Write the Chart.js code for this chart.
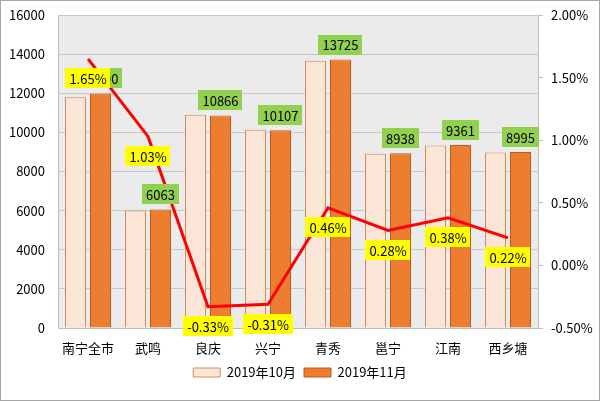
<!DOCTYPE html>
<html><head><meta charset="utf-8">
<script src="https://cdn.jsdelivr.net/npm/chart.js@4/dist/chart.umd.min.js"></script>
<style>html,body{margin:0;padding:0;background:#fff}#wrap{width:600px;height:401px;position:relative}</style>
</head><body><div id="wrap"><canvas id="c" width="600" height="401"></canvas></div>
<script>
const categories = ['南宁全市','武鸣','良庆','兴宁','青秀','邕宁','江南','西乡塘'];
const oct2019 = [11795, 6001, 10902, 10138, 13662, 8913, 9326, 8975];
const nov2019 = [11990, 6063, 10866, 10107, 13725, 8938, 9361, 8995];
const changePct = [1.65, 1.03, -0.33, -0.31, 0.46, 0.28, 0.38, 0.22];
const leftTicks = [0, 16000, 2000];
const rightTicks = [-0.5, 2.0, 0.5];
const seriesNames = ['2019年10月', '2019年11月'];

const FONT = '"Noto Sans CJK SC", "Open Sans", sans-serif';
const PLOT_L = 58, PLOT_R = 538;

const bgPlugin = {
  id: 'bg',
  beforeDraw(chart) {
    const {ctx, chartArea: a} = chart;
    ctx.save();
    ctx.fillStyle = '#ffffff';
    ctx.fillRect(0, 0, chart.width, chart.height);
    ctx.fillStyle = '#EBEBEB';
    ctx.fillRect(a.left, a.top, a.right - a.left, a.bottom - a.top);
    ctx.restore();
  },
  afterDraw(chart) {
    const ctx = chart.ctx;
    ctx.save();
    ctx.strokeStyle = '#A6A6A6';
    ctx.lineWidth = 1;
    ctx.strokeRect(0.5, 0.5, chart.width - 1, chart.height - 1);
    ctx.restore();
  }
};

function boxLabel(ctx, text, cx, cy, fill) {
  ctx.font = '13px ' + FONT;
  const w = ctx.measureText(text).width + 8;
  const h = 20;
  ctx.fillStyle = fill;
  ctx.fillRect(Math.round(cx - w / 2), Math.round(cy - h / 2), Math.round(w), h);
  ctx.fillStyle = '#000';
  ctx.textAlign = 'center';
  ctx.textBaseline = 'middle';
  ctx.fillText(text, cx, cy + 1);
}

const labelPlugin = {
  id: 'labels',
  afterDatasetsDraw(chart) {
    const ctx = chart.ctx;
    ctx.save();
    const barMeta = chart.getDatasetMeta(1);
    barMeta.data.forEach((el, i) => {
      boxLabel(ctx, String(nov2019[i]), el.x, el.y - 5 - 10, '#92D050');
    });
    const lineMeta = chart.getDatasetMeta(2);
    lineMeta.data.forEach((el, i) => {
      boxLabel(ctx, changePct[i].toFixed(2) + '%', el.x, el.y + 19.5, '#FFFF00');
    });
    ctx.restore();
  }
};

new Chart(document.getElementById('c'), {
  data: {
    labels: categories,
    datasets: [
      { type: 'bar', label: seriesNames[0], data: oct2019, backgroundColor: '#FBE5D6', borderColor: '#D8895A', borderWidth: 1, yAxisID: 'y', order: 2, categoryPercentage: 0.833, barPercentage: 0.84 },
      { type: 'bar', label: seriesNames[1], data: nov2019, backgroundColor: '#ED7D31', borderColor: '#C55A11', borderWidth: 1, yAxisID: 'y', order: 2, categoryPercentage: 0.833, barPercentage: 0.84 },
      { type: 'line', label: 'pct', data: changePct, borderColor: '#FF0000', borderWidth: 3, pointRadius: 0, tension: 0, fill: false, yAxisID: 'y1', order: 1 }
    ]
  },
  options: {
    responsive: false,
    animation: false,
    layout: { padding: { top: 15, left: 0, right: 0, bottom: 12 } },
    plugins: {
      legend: {
        position: 'bottom',
        labels: {
          filter: (item) => item.datasetIndex < 2,
          boxWidth: 27, boxHeight: 9, color: '#000', padding: 8,
          font: { size: 13, family: FONT }
        }
      },
      tooltip: { enabled: false }
    },
    scales: {
      x: {
        grid: { display: false, drawTicks: false },
        border: { display: true, color: '#BFBFBF' },
        ticks: { color: '#000', padding: 12, font: { size: 13, family: FONT } },
        afterFit(s) { s.height = 30; s.paddingLeft = 0; s.paddingRight = 0; }
      },
      y: {
        position: 'left',
        min: leftTicks[0], max: leftTicks[1],
        ticks: { stepSize: leftTicks[2], color: '#000', padding: 13, font: { size: 13, family: FONT }, callback: v => String(v) },
        grid: { color: '#C8C8C8', drawTicks: false },
        border: { display: true, color: '#BFBFBF' },
        afterFit(s) { s.width = PLOT_L; s.paddingTop = 0; s.paddingBottom = 0; }
      },
      y1: {
        position: 'right',
        min: rightTicks[0], max: rightTicks[1],
        ticks: { stepSize: rightTicks[2], color: '#000', padding: 8, font: { size: 13, family: FONT }, callback: v => v.toFixed(2) + '%' },
        grid: { drawOnChartArea: false, color: '#BFBFBF', tickLength: 5 },
        border: { display: true, color: '#BFBFBF' },
        afterFit(s) { s.width = 600 - PLOT_R; s.paddingTop = 0; s.paddingBottom = 0; }
      }
    }
  },
  plugins: [bgPlugin, labelPlugin]
});
</script></body></html>
